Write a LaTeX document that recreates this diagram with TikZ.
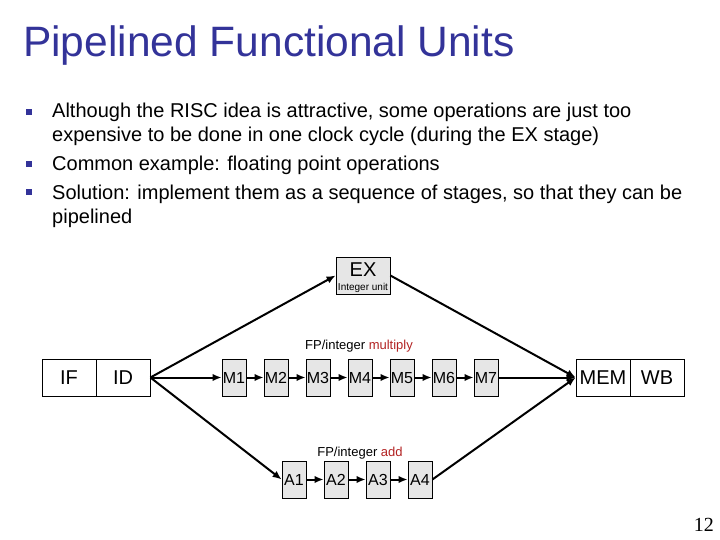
\documentclass[tikz,border=0pt]{standalone}
\usepackage{fontspec}
\setmainfont{Liberation Sans}
\newfontfamily\numfont{Liberation Serif}
\usepackage{xcolor}
\usepackage{tikz}
\usetikzlibrary{arrows.meta,positioning}
\definecolor{TBlue}{HTML}{333399}
\definecolor{SRed}{HTML}{B22222}
\definecolor{SGray}{HTML}{E6E6E6}

\newcommand{\px}[1]{\fontsize{#1}{1.2\dimexpr#1pt\relax}\selectfont}

\begin{document}
\begin{tikzpicture}[
  x=1pt,y=-1pt,
  every node/.style={inner sep=0pt},
  body/.style={anchor=base west,align=left,font=\px{20}},
  bul/.style={fill=TBlue,minimum size=6pt},
  pipe/.style={draw,line width=0.8pt,fill=white,minimum width=54pt,minimum height=37pt,
    text height=14.5pt,text depth=0pt,font=\px{20}},
  unit/.style={draw,line width=0.8pt,fill=SGray,minimum width=24pt,minimum height=37pt,
    text height=11.5pt,text depth=0pt,font=\px{16}},
  tag/.style={font=\px{13}},
  arr/.style={-{Latex[length=9pt,width=7.5pt]},line width=2pt}
]
  \useasboundingbox (0,0) rectangle (720,540);

  % title and bullets
  \node[anchor=base west,text=TBlue,font=\px{42.5}] (title) at (23,57)
    {Pipelined Functional Units};
  \node[bul] (bul1) at (29,112.5) {};
  \node[bul] (bul2) at (29,164.5) {};
  \node[bul] (bul3) at (29,192.5) {};
  % base of a two-line node is its last line
  \node[body] (item1) at (52,142)
    {Although the RISC idea is attractive, some operations are just too\\
     expensive to be done in one clock cycle (during the EX stage)};
  \node[body] (item2) at (52,171) {Common example: floating point operations};
  \node[body] (item3) at (52,223)
    {Solution: implement them as a sequence of stages, so that they can be\\
     pipelined};

  % front and back of the pipeline
  \node[pipe] (if) at (69,377.5) {IF};
  \node[pipe] (id) at (123,377.5) {ID};
  \node[pipe] (mem) at (603,377.5) {MEM};
  \node[pipe] (wb) at (657,377.5) {WB};

  % integer unit
  \node[draw,line width=0.8pt,fill=SGray,minimum width=54pt,minimum height=37pt]
    (ex) at (363,275.5) {};
  \node[font=\px{20}] (exname) at (363,270) {EX};
  \node[font=\px{10}] (exsub) at (363,288) {Integer unit};

  % multiplier
  \node[tag] (mullbl) at (359,346) {FP/integer \textcolor{SRed}{multiply}};
  \node[unit] (m1) at (234,377.5) {M1};
  \node[unit] (m2) at (276,377.5) {M2};
  \node[unit] (m3) at (318,377.5) {M3};
  \node[unit] (m4) at (360,377.5) {M4};
  \node[unit] (m5) at (402,377.5) {M5};
  \node[unit] (m6) at (444,377.5) {M6};
  \node[unit] (m7) at (486,377.5) {M7};

  % adder
  \node[tag] (addlbl) at (360,453) {FP/integer \textcolor{SRed}{add}};
  \node[unit] (a1) at (294,479.5) {A1};
  \node[unit] (a2) at (336,479.5) {A2};
  \node[unit] (a3) at (378,479.5) {A3};
  \node[unit] (a4) at (420,479.5) {A4};

  \draw[arr] (id.east) -- (ex.west);
  \draw[arr] (id.east) -- (m1.west);
  \draw[arr] (id.east) -- (a1.west);
  \draw[arr] (m1) -- (m2);
  \draw[arr] (m2) -- (m3);
  \draw[arr] (m3) -- (m4);
  \draw[arr] (m4) -- (m5);
  \draw[arr] (m5) -- (m6);
  \draw[arr] (m6) -- (m7);
  \draw[arr] (a1) -- (a2);
  \draw[arr] (a2) -- (a3);
  \draw[arr] (a3) -- (a4);
  \draw[arr] (ex.east) -- (mem.west);
  \draw[arr] (m7.east) -- (mem.west);
  \draw[arr] (a4.east) -- (mem.west);

  \node[anchor=base east,font=\numfont\px{20}] (pagenum) at (714,531) {12};
\end{tikzpicture}
\end{document}
